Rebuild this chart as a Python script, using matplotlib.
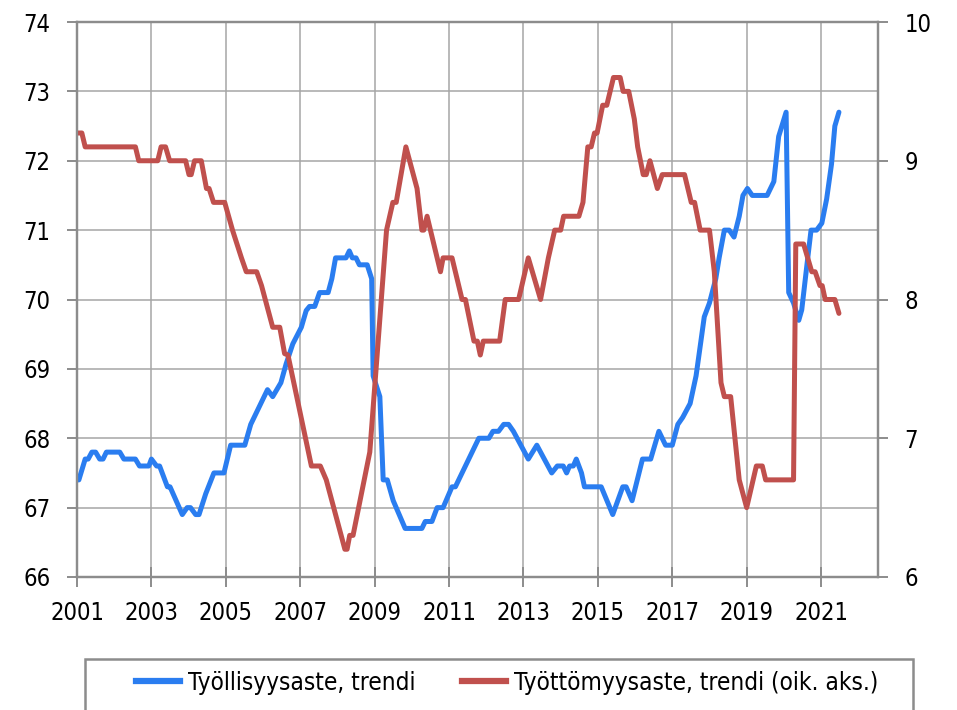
import matplotlib
matplotlib.use("Agg")
import matplotlib.pyplot as plt
from matplotlib.patches import Rectangle
from matplotlib.lines import Line2D

plt.rcParams['font.family'] = ['DejaVu Sans']
plt.rcParams['font.stretch'] = 'condensed'

# Työllisyysaste, trendi (vasen akseli)
emp_t = [2001.00, 2001.05, 2001.22, 2001.30, 2001.40, 2001.50, 2001.61, 2001.70, 2001.79, 2002.15,
         2002.26, 2002.57, 2002.68, 2002.93, 2003.00, 2003.14, 2003.22, 2003.43, 2003.50, 2003.83,
         2003.96, 2004.05, 2004.19, 2004.28, 2004.46, 2004.68, 2004.95, 2005.13, 2005.51, 2005.67,
         2006.12, 2006.26, 2006.48, 2006.62, 2006.80, 2007.03, 2007.16, 2007.25, 2007.39, 2007.52,
         2007.75, 2007.85, 2007.95, 2008.23, 2008.32, 2008.40, 2008.50, 2008.59, 2008.80, 2008.92,
         2008.96, 2009.14, 2009.23, 2009.34, 2009.50, 2009.82, 2010.27, 2010.36, 2010.54, 2010.68,
         2010.84, 2011.08, 2011.17, 2011.80, 2012.07, 2012.18, 2012.33, 2012.47, 2012.60, 2012.73,
         2013.13, 2013.36, 2013.76, 2013.91, 2014.07, 2014.16, 2014.24, 2014.34, 2014.42, 2014.56,
         2014.64, 2015.09, 2015.40, 2015.67, 2015.76, 2015.92, 2016.20, 2016.42, 2016.64, 2016.82,
         2017.00, 2017.15, 2017.28, 2017.48, 2017.64, 2017.77, 2017.86, 2018.00, 2018.17, 2018.26,
         2018.40, 2018.53, 2018.66, 2018.80, 2018.90, 2019.02, 2019.15, 2019.55, 2019.73, 2019.86,
         2020.06, 2020.13, 2020.26, 2020.40, 2020.48, 2020.62, 2020.73, 2020.88, 2021.02, 2021.15,
         2021.28, 2021.37, 2021.48]
emp_v = [67.4, 67.4, 67.7, 67.7, 67.8, 67.8, 67.7, 67.7, 67.8, 67.8,
         67.7, 67.7, 67.6, 67.6, 67.7, 67.6, 67.6, 67.3, 67.3, 66.9,
         67.0, 67.0, 66.9, 66.9, 67.2, 67.5, 67.5, 67.9, 67.9, 68.2,
         68.7, 68.6, 68.8, 69.07, 69.36, 69.6, 69.84, 69.9, 69.9, 70.1,
         70.1, 70.3, 70.6, 70.6, 70.7, 70.6, 70.6, 70.5, 70.5, 70.3,
         68.9, 68.6, 67.4, 67.4, 67.1, 66.7, 66.7, 66.8, 66.8, 67.0,
         67.0, 67.3, 67.3, 68.0, 68.0, 68.1, 68.1, 68.2, 68.2, 68.1,
         67.7, 67.9, 67.5, 67.6, 67.6, 67.5, 67.6, 67.6, 67.7, 67.5,
         67.3, 67.3, 66.9, 67.3, 67.3, 67.1, 67.7, 67.7, 68.1, 67.9,
         67.9, 68.2, 68.3, 68.5, 68.9, 69.4, 69.75, 69.95, 70.3, 70.6,
         71.0, 71.0, 70.9, 71.2, 71.5, 71.6, 71.5, 71.5, 71.7, 72.35,
         72.7, 70.1, 69.95, 69.7, 69.85, 70.5, 71.0, 71.0, 71.1, 71.45,
         71.95, 72.5, 72.7]

# Työttömyysaste, trendi (oikea akseli)
unemp_t = [2001.00, 2001.13, 2001.22, 2002.57, 2002.66, 2003.17, 2003.26, 2003.38, 2003.49, 2003.92,
           2004.01, 2004.07, 2004.16, 2004.34, 2004.48, 2004.55, 2004.67, 2004.97, 2005.18, 2005.42,
           2005.55, 2005.83, 2005.96, 2006.26, 2006.45, 2006.58, 2006.67, 2007.30, 2007.54, 2007.70,
           2008.20, 2008.26, 2008.33, 2008.42, 2008.87, 2009.32, 2009.49, 2009.58, 2009.84, 2010.14,
           2010.27, 2010.32, 2010.41, 2010.77, 2010.84, 2011.08, 2011.35, 2011.44, 2011.67, 2011.76,
           2011.84, 2011.92, 2012.36, 2012.51, 2012.87, 2013.13, 2013.46, 2013.67, 2013.84, 2014.00,
           2014.08, 2014.49, 2014.60, 2014.73, 2014.82, 2014.91, 2014.98, 2015.13, 2015.24, 2015.42,
           2015.60, 2015.68, 2015.83, 2015.98, 2016.07, 2016.22, 2016.30, 2016.40, 2016.60, 2016.73,
           2017.33, 2017.51, 2017.60, 2017.75, 2018.00, 2018.13, 2018.31, 2018.40, 2018.57, 2018.80,
           2019.00, 2019.26, 2019.42, 2019.51, 2020.26, 2020.32, 2020.53, 2020.75, 2020.84, 2020.97,
           2021.03, 2021.11, 2021.37, 2021.48]
unemp_v = [9.2, 9.2, 9.1, 9.1, 9.0, 9.0, 9.1, 9.1, 9.0, 9.0,
           8.9, 8.9, 9.0, 9.0, 8.8, 8.8, 8.7, 8.7, 8.5, 8.3,
           8.2, 8.2, 8.1, 7.8, 7.8, 7.61, 7.6, 6.8, 6.8, 6.7,
           6.2, 6.2, 6.3, 6.3, 6.9, 8.5, 8.7, 8.7, 9.1, 8.8,
           8.5, 8.5, 8.6, 8.2, 8.3, 8.3, 8.0, 8.0, 7.7, 7.7,
           7.6, 7.7, 7.7, 8.0, 8.0, 8.3, 8.0, 8.3, 8.5, 8.5,
           8.6, 8.6, 8.7, 9.1, 9.1, 9.2, 9.2, 9.4, 9.4, 9.6,
           9.6, 9.5, 9.5, 9.3, 9.1, 8.9, 8.9, 9.0, 8.8, 8.9,
           8.9, 8.7, 8.7, 8.5, 8.5, 8.2, 7.4, 7.3, 7.3, 6.7,
           6.5, 6.8, 6.8, 6.7, 6.7, 8.4, 8.4, 8.2, 8.2, 8.1,
           8.1, 8.0, 8.0, 7.9]

year_ticks = list(range(2001, 2022, 2))
left_ticks = [66, 67, 68, 69, 70, 71, 72, 73, 74]
right_ticks = [6, 7, 8, 9, 10]

labels = ['Työllisyysaste, trendi', 'Työttömyysaste, trendi (oik. aks.)']
blue = '#2A7DF0'
red = '#C0504D'
gridc = '#A6A6A6'
spinec = '#8C8C8C'
fs = 17
legfs = 17.5

fig = plt.figure(figsize=(9.57, 7.10), dpi=100)
ax = fig.add_axes([77/957, 1-577/710, (878-77)/957, (577-22)/710])
ax2 = ax.twinx()

ax.plot(emp_t, emp_v, color=blue, lw=3.6, solid_joinstyle='round', solid_capstyle='round')
ax2.plot(unemp_t, unemp_v, color=red, lw=3.6, solid_joinstyle='round', solid_capstyle='round')

ax.set_xlim(2001, 2022.53)
ax.set_ylim(66, 74)
ax2.set_ylim(6, 10)
ax.set_xticks(year_ticks)
ax.set_yticks(left_ticks)
ax2.set_yticks(right_ticks)

ax.grid(True, color=gridc, lw=1.1)
ax.set_axisbelow(True)

for a in (ax, ax2):
    for s in a.spines.values():
        s.set_color(spinec)
        s.set_linewidth(1.6)

ax.tick_params(axis='x', direction='inout', length=15, width=1.4, color=spinec,
               labelsize=fs, pad=10)
ax.tick_params(axis='y', direction='out', length=7, width=1.4, color=spinec,
               labelsize=fs, pad=12)
ax2.tick_params(axis='y', direction='out', length=7, width=1.4, color=spinec,
                labelsize=fs, pad=12)

# legend box, cut by the bottom edge as in the original
fig.patches.append(Rectangle((85/957, -0.05), (913-85)/957, 0.05 + 1-659/710,
                             transform=fig.transFigure, fill=False,
                             edgecolor=spinec, lw=1.8))
handles = [Line2D([], [], color=blue, lw=4.5), Line2D([], [], color=red, lw=4.5)]
fig.legend(handles, labels, loc='center left', bbox_to_anchor=(136/957, 1-683/710),
           ncol=2, frameon=False, fontsize=legfs, handlelength=1.8, handletextpad=0.35,
           columnspacing=1.9, borderpad=0, borderaxespad=0)

fig.savefig('out.png', dpi=100)
